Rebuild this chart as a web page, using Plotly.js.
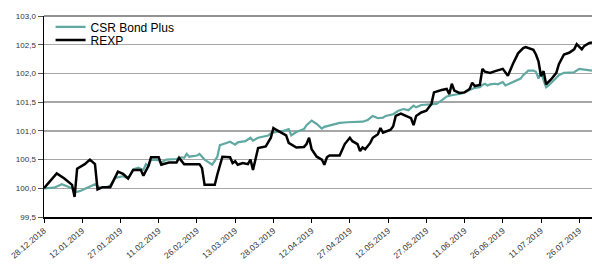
<!DOCTYPE html>
<html>
<head>
<meta charset="utf-8">
<script src="https://cdn.plot.ly/plotly-3.0.1.min.js"></script>
<style>html,body{margin:0;padding:0;background:#fff;}#chart{width:592px;height:264px;}</style>
</head>
<body>
<div id="chart"></div>
<script>
const seriesNames = ["CSR Bond Plus", "REXP"];

const csrDates = ["2018-12-28","2019-01-01","2019-01-04","2019-01-06","2019-01-08","2019-01-09","2019-01-11","2019-01-14","2019-01-17","2019-01-19","2019-01-21","2019-01-23","2019-01-25","2019-01-28","2019-01-30","2019-02-01","2019-02-03","2019-02-05","2019-02-06","2019-02-07","2019-02-08","2019-02-11","2019-02-12","2019-02-14","2019-02-18","2019-02-20","2019-02-21","2019-02-22","2019-02-23","2019-02-26","2019-02-27","2019-03-01","2019-03-04","2019-03-06","2019-03-07","2019-03-09","2019-03-11","2019-03-13","2019-03-14","2019-03-17","2019-03-19","2019-03-20","2019-03-22","2019-03-26","2019-03-27","2019-03-29","2019-04-01","2019-04-03","2019-04-04","2019-04-06","2019-04-09","2019-04-10","2019-04-12","2019-04-14","2019-04-16","2019-04-17","2019-04-20","2019-04-23","2019-04-26","2019-04-28","2019-04-30","2019-05-02","2019-05-04","2019-05-06","2019-05-08","2019-05-10","2019-05-11","2019-05-14","2019-05-15","2019-05-16","2019-05-18","2019-05-20","2019-05-22","2019-05-23","2019-05-25","2019-05-28","2019-05-31","2019-06-02","2019-06-04","2019-06-06","2019-06-08","2019-06-10","2019-06-13","2019-06-15","2019-06-17","2019-06-18","2019-06-19","2019-06-20","2019-06-21","2019-06-23","2019-06-24","2019-06-26","2019-06-27","2019-06-29","2019-07-01","2019-07-03","2019-07-04","2019-07-06","2019-07-08","2019-07-09","2019-07-10","2019-07-11","2019-07-12","2019-07-13","2019-07-14","2019-07-16","2019-07-18","2019-07-20","2019-07-22","2019-07-24","2019-07-26","2019-07-28","2019-07-31"];
const csrValues = [100.00,100.01,100.07,100.03,100.00,99.93,99.95,100.01,100.07,100.01,100.01,100.05,100.18,100.21,100.17,100.33,100.36,100.32,100.42,100.39,100.50,100.49,100.45,100.50,100.51,100.54,100.53,100.60,100.55,100.57,100.60,100.50,100.41,100.55,100.75,100.78,100.81,100.76,100.80,100.82,100.88,100.83,100.88,100.92,100.96,100.98,101.00,101.03,100.92,100.98,101.03,101.10,101.18,101.12,101.04,101.07,101.10,101.14,101.15,101.15,101.16,101.16,101.19,101.26,101.22,101.23,101.26,101.29,101.32,101.35,101.38,101.36,101.44,101.41,101.45,101.46,101.47,101.53,101.60,101.62,101.63,101.65,101.71,101.75,101.76,101.80,101.82,101.79,101.81,101.82,101.81,101.85,101.79,101.83,101.87,101.91,101.97,102.05,102.05,102.03,101.91,102.03,101.88,101.76,101.79,101.88,101.97,102.01,102.01,102.02,102.08,102.07,102.05];

const rexpDates = ["2018-12-28","2019-01-02","2019-01-05","2019-01-07","2019-01-08","2019-01-09","2019-01-10","2019-01-13","2019-01-15","2019-01-17","2019-01-18","2019-01-20","2019-01-23","2019-01-26","2019-01-28","2019-01-30","2019-02-01","2019-02-04","2019-02-05","2019-02-07","2019-02-08","2019-02-11","2019-02-12","2019-02-15","2019-02-18","2019-02-19","2019-02-21","2019-02-27","2019-02-28","2019-03-01","2019-03-05","2019-03-06","2019-03-08","2019-03-11","2019-03-12","2019-03-13","2019-03-14","2019-03-16","2019-03-18","2019-03-19","2019-03-20","2019-03-22","2019-03-25","2019-03-27","2019-03-28","2019-03-29","2019-03-31","2019-04-02","2019-04-03","2019-04-05","2019-04-06","2019-04-09","2019-04-10","2019-04-11","2019-04-12","2019-04-14","2019-04-16","2019-04-17","2019-04-18","2019-04-19","2019-04-23","2019-04-25","2019-04-27","2019-04-28","2019-04-30","2019-05-01","2019-05-02","2019-05-03","2019-05-04","2019-05-05","2019-05-06","2019-05-08","2019-05-09","2019-05-10","2019-05-13","2019-05-14","2019-05-15","2019-05-17","2019-05-19","2019-05-21","2019-05-22","2019-05-23","2019-05-25","2019-05-27","2019-05-29","2019-05-30","2019-06-02","2019-06-04","2019-06-05","2019-06-06","2019-06-07","2019-06-09","2019-06-11","2019-06-13","2019-06-14","2019-06-15","2019-06-17","2019-06-18","2019-06-19","2019-06-21","2019-06-23","2019-06-25","2019-06-26","2019-06-28","2019-06-29","2019-06-30","2019-07-02","2019-07-04","2019-07-05","2019-07-08","2019-07-09","2019-07-10","2019-07-11","2019-07-12","2019-07-13","2019-07-15","2019-07-17","2019-07-18","2019-07-20","2019-07-22","2019-07-24","2019-07-25","2019-07-27","2019-07-28","2019-07-30","2019-07-31"];
const rexpValues = [100.00,100.26,100.17,100.10,100.06,99.85,100.34,100.42,100.50,100.42,99.98,100.02,100.02,100.29,100.25,100.17,100.32,100.32,100.22,100.39,100.54,100.54,100.41,100.45,100.45,100.53,100.42,100.42,100.35,100.06,100.06,100.24,100.55,100.54,100.44,100.47,100.41,100.44,100.42,100.50,100.32,100.70,100.73,100.88,101.05,101.02,100.97,100.92,100.79,100.74,100.71,100.72,100.77,100.88,100.68,100.55,100.50,100.41,100.54,100.57,100.57,100.77,100.88,100.82,100.77,100.65,100.71,100.68,100.74,100.79,100.88,100.94,101.05,100.97,101.02,101.08,101.26,101.30,101.26,101.22,101.10,101.26,101.32,101.35,101.47,101.67,101.71,101.73,101.64,101.82,101.70,101.66,101.67,101.73,101.84,101.78,101.80,102.08,102.03,102.01,102.04,102.06,102.08,101.96,102.08,102.17,102.35,102.44,102.46,102.41,102.33,102.21,101.95,102.04,101.81,101.90,102.01,102.16,102.33,102.36,102.42,102.51,102.42,102.48,102.53,102.54];

const xTickLabels = ["28.12.2018","12.01.2019","27.01.2019","11.02.2019","26.02.2019","13.03.2019","28.03.2019","12.04.2019","27.04.2019","12.05.2019","27.05.2019","11.06.2019","26.06.2019","11.07.2019","26.07.2019"];
const yTickValues = [99.5, 100.0, 100.5, 101.0, 101.5, 102.0, 102.5, 103.0];

const xTickVals = xTickLabels.map(s => { const p = s.split("."); return p[2] + "-" + p[1] + "-" + p[0]; });

const traces = [
  { x: csrDates, y: csrValues, name: seriesNames[0], type: "scatter", mode: "lines",
    line: { color: "#5fa9a2", width: 2.2 }, legend: "legend" },
  { x: rexpDates, y: rexpValues, name: seriesNames[1], type: "scatter", mode: "lines",
    line: { color: "#000000", width: 2.5 }, legend: "legend2" }
];

const legendFont = { family: "Liberation Sans, Arial, sans-serif", size: 12, color: "#000000" };

const layout = {
  width: 592, height: 264,
  margin: { l: 44, r: 0, t: 16, b: 47 },
  paper_bgcolor: "#ffffff", plot_bgcolor: "#ffffff",
  separators: ",.",
  font: { family: "Liberation Sans, Arial, sans-serif", size: 8, color: "#333333" },
  showlegend: true,
  legend: {
    x: 0.012, y: 1.018, xanchor: "left", yanchor: "top",
    bgcolor: "rgba(255,255,255,0)", borderwidth: 0, font: legendFont, itemwidth: 30
  },
  legend2: {
    x: 0.012, y: 0.953, xanchor: "left", yanchor: "top",
    bgcolor: "rgba(255,255,255,0)", borderwidth: 0, font: legendFont, itemwidth: 30
  },
  shapes: [
    { type: "line", xref: "paper", yref: "paper", x0: 0, x1: 1, y0: 1, y1: 1,
      line: { color: "#6e6e6e", width: 1.5 } },
    { type: "rect", layer: "between", xref: "paper", yref: "paper",
      x0: 0.011, x1: 0.267, y0: 0.82, y1: 0.985,
      fillcolor: "#ffffff", line: { width: 0 } }
  ],
  xaxis: {
    type: "date",
    range: ["2018-12-28", "2019-07-31"],
    tickmode: "array", tickvals: xTickVals, ticktext: xTickLabels,
    tickangle: -40,
    ticks: "outside", ticklen: 4, tickcolor: "#000000", tickwidth: 1,
    showline: true, linecolor: "#000000", linewidth: 1.5,
    showgrid: false, zeroline: false,
    tickfont: { size: 8.5, color: "#333333" }
  },
  yaxis: {
    range: [99.5, 103.0],
    tickmode: "array", tickvals: yTickValues,
    tickformat: ".1f",
    ticks: "outside", ticklen: 5, tickcolor: "#555555", tickwidth: 1,
    showline: true, linecolor: "#000000", linewidth: 1.5,
    showgrid: true, gridcolor: "#a6a6a6", gridwidth: 1.5,
    zeroline: false,
    tickfont: { size: 8, color: "#333333" }
  }
};

Plotly.newPlot("chart", traces, layout, { displayModeBar: false, staticPlot: true });
</script>
</body>
</html>
